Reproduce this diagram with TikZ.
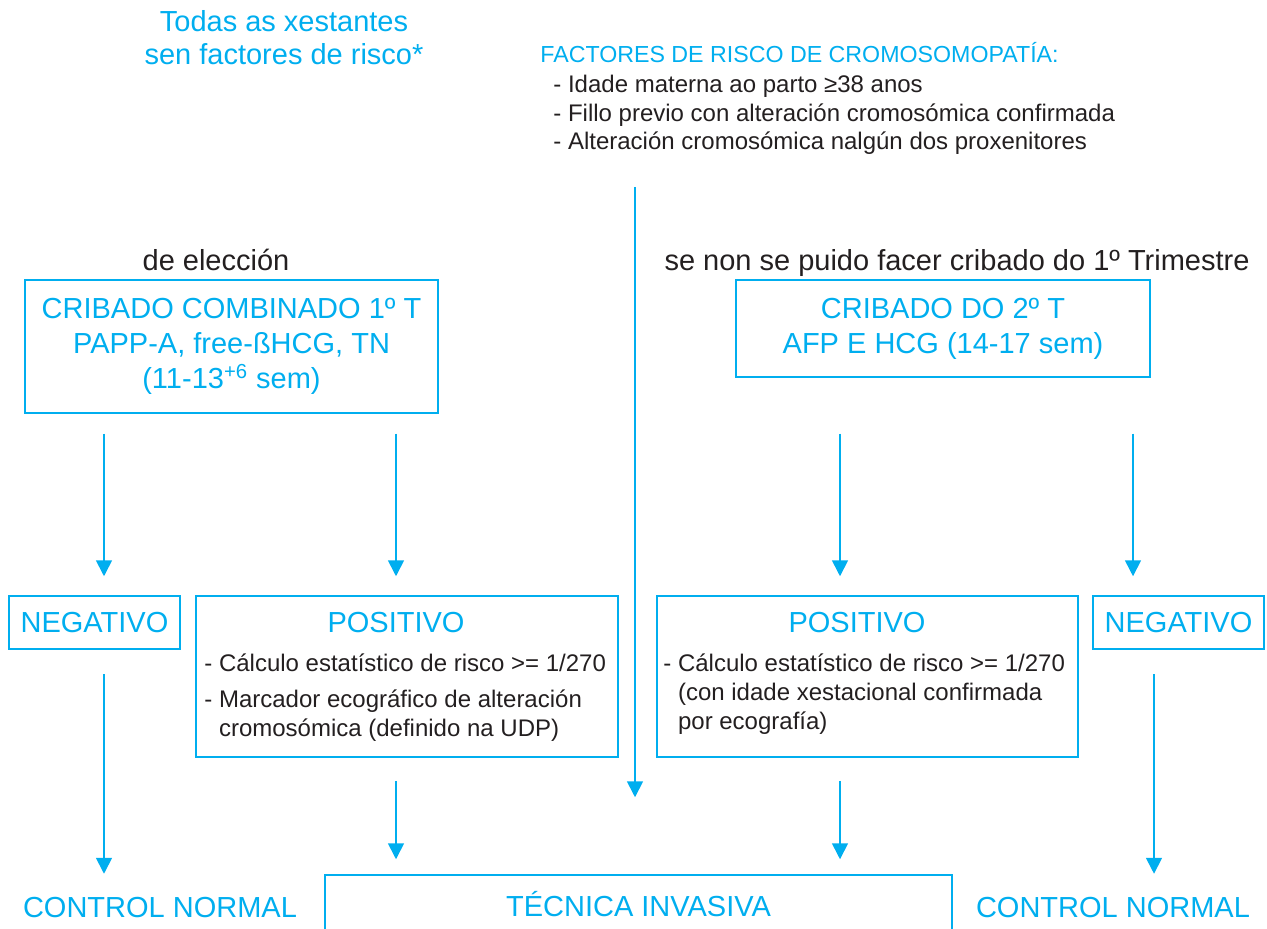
\documentclass[tikz,border=0pt]{standalone}
\usepackage{fontspec}
\setmainfont{Liberation Sans}
\usetikzlibrary{arrows.meta}
\definecolor{cribado}{RGB}{0,174,239}
\definecolor{texto}{RGB}{35,31,32}
\tikzset{
    flow box/.style = {
        draw = cribado,
        line width = 0.75pt,
        inner sep = 0pt,
        text = cribado,
        align = center,
        font = \fontsize{14.5pt}{17.5pt}\selectfont,
        },
    blue label/.style = {
        text = cribado,
        inner sep = 0pt,
        font = \fontsize{14.5pt}{16.5pt}\selectfont,
        },
    dark label/.style = {
        text = texto,
        inner sep = 0pt,
        font = \fontsize{14.5pt}{16.5pt}\selectfont,
        },
    item list/.style = {
        text = texto,
        inner sep = 0pt,
        align = left,
        font = \fontsize{12pt}{14.5pt}\selectfont,
        },
    flow arrow/.style = {
        draw = cribado,
        line width = 0.85pt,
        -{Triangle[length=8pt, width=8pt]},
        },
}

\begin{document}
\begin{tikzpicture}[x=0.5pt, y=-0.5pt]
            \useasboundingbox (0,0) rectangle (1267,929);

            % cabeceira
            \node[blue label, align=center] (todas) at (284,38) {Todas as xestantes\\sen factores de risco*};
            \node[blue label, anchor=base west, font=\fontsize{11.6pt}{14pt}\selectfont] (riskhead) at (540,63) {FACTORES DE RISCO DE CROMOSOMOPATÍA:};
            \node[item list, anchor=north west, font=\fontsize{12pt}{14.25pt}\selectfont] (risklist) at (553,75) {- Idade materna ao parto ≥38 anos\\- Fillo previo con alteración cromosómica confirmada\\- Alteración cromosómica nalgún dos proxenitores};
            \coordinate (mtop) at (635,187);

            % cribados
            \node[dark label, anchor=base] (eleccion) at (216,271) {de elección};
            \node[dark label, anchor=base] (senon) at (957,271) {se non se puido facer cribado do 1º Trimestre};
            \node[flow box, minimum width=206.5pt, minimum height=66.5pt] (comb) at (231.5,346.5) {CRIBADO COMBINADO 1º T\\PAPP-A, free-ßHCG, TN\\(11-13\textsuperscript{+6} sem)};
            \node[flow box, minimum width=207pt, minimum height=48.5pt] (seg) at (943,328.5) {CRIBADO DO 2º T\\AFP E HCG (14-17 sem)};

            % resultados
            \node[flow box, minimum width=85.5pt, minimum height=26.5pt] (neg1) at (94.5,622.5) {NEGATIVO};
            \node[flow box, minimum width=211pt, minimum height=80.5pt] (pos1) at (407,676.5) {};
            \node[blue label, anchor=base] (pos1head) at (396,632) {POSITIVO};
            \node[item list, anchor=north west] (pos1text) at (204,653) {- Cálculo estatístico de risco >= 1/270\\[3.5pt]- Marcador ecográfico de alteración\\\phantom{- }cromosómica (definido na UDP)};
            \node[flow box, minimum width=210.5pt, minimum height=80.5pt] (pos2) at (867.5,676.5) {};
            \node[blue label, anchor=base] (pos2head) at (857,632) {POSITIVO};
            \node[item list, anchor=north west] (pos2text) at (663,653) {- Cálculo estatístico de risco >= 1/270\\\phantom{- }(con idade xestacional confirmada\\\phantom{- }por ecografía)};
            \node[flow box, minimum width=85.5pt, minimum height=26.5pt] (neg2) at (1178.5,622.5) {NEGATIVO};

            % final
            \node[blue label, anchor=base] (ctrl1) at (160,917) {CONTROL NORMAL};
            \node[flow box, minimum width=313.5pt, minimum height=29pt] (tec) at (638.5,904) {TÉCNICA INVASIVA};
            \node[blue label, anchor=base] (ctrl2) at (1113,917) {CONTROL NORMAL};

            \coordinate (colA) at (104,0);
            \coordinate (colB) at (396,0);
            \coordinate (colC) at (840,0);
            \coordinate (colD) at (1133,0);
            \coordinate (colE) at (1154,0);

            \path (comb.south -| colA) edge[flow arrow, shorten <=10pt, shorten >=9.5pt] (neg1.north -| colA);
            \path (comb.south -| colB) edge[flow arrow, shorten <=10pt, shorten >=9.5pt] (pos1.north -| colB);
            \path (seg.south -| colC) edge[flow arrow, shorten <=28pt, shorten >=9.5pt] (pos2.north -| colC);
            \path (seg.south -| colD) edge[flow arrow, shorten <=28pt, shorten >=9.5pt] (neg2.north -| colD);
            \path (neg1.south -| colA) edge[flow arrow, shorten <=12pt, shorten >=11.3pt] (ctrl1.north -| colA);
            \path (pos1.south -| colB) edge[flow arrow, shorten <=11.5pt, shorten >=7.5pt] (tec.north -| colB);
            \path (mtop) edge[flow arrow, shorten >=38.5pt] (tec.north -| mtop);
            \path (pos2.south -| colC) edge[flow arrow, shorten <=11.5pt, shorten >=7.5pt] (tec.north -| colC);
            \path (neg2.south -| colE) edge[flow arrow, shorten <=12pt, shorten >=11.3pt] (ctrl2.north -| colE);
        \end{tikzpicture}
\end{document}
